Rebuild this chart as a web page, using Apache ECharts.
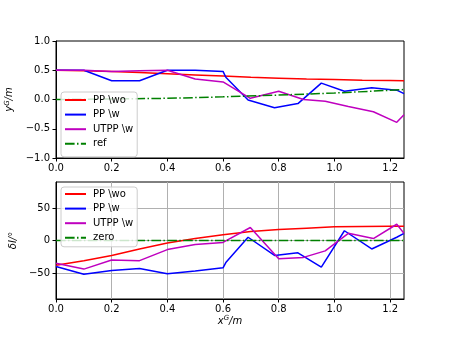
<!DOCTYPE html>
<html><head><meta charset="utf-8">
<script src="https://cdn.jsdelivr.net/npm/echarts@6/dist/echarts.min.js"></script>
<style>html,body{margin:0;padding:0;background:#fff}#c{width:449px;height:337px}</style>
</head><body><div id="c"></div>
<script>
// ---- data ----
const xTicks = [0, 0.2, 0.4, 0.6, 0.8, 1.0, 1.2];
const yTopTicks = [-1, -0.5, 0, 0.5, 1];
const yBotTicks = [-50, 0, 50];

const redX = [0, 0.1, 0.2, 0.3, 0.4, 0.5, 0.6, 0.7, 0.8, 0.9, 1.0, 1.1, 1.2, 1.25];
const redTop = [0.50, 0.49, 0.48, 0.46, 0.44, 0.42, 0.40, 0.38, 0.365, 0.35, 0.34, 0.33, 0.325, 0.32];
const redBot = [-38, -31, -23, -13, -4, 3, 9, 14, 17, 19, 21, 21.5, 22, 22];

const blueX = [0, 0.1, 0.2, 0.3, 0.4, 0.5, 0.6, 0.61, 0.69, 0.785, 0.869, 0.953, 1.036, 1.134, 1.224, 1.25];
const blueTop = [0.50, 0.50, 0.32, 0.32, 0.50, 0.50, 0.48, 0.38, -0.01, -0.14, -0.07, 0.28, 0.14, 0.20, 0.16, 0.10];
const blueBot = [-40, -52, -46, -43, -51, -47, -42, -34, 5, -23, -19, -41, 15, -13, 5, 11];

const magX = [0, 0.1, 0.2, 0.3, 0.4, 0.5, 0.6, 0.698, 0.8, 0.889, 0.967, 1.05, 1.14, 1.224, 1.25];
const magTop = [0.50, 0.50, 0.48, 0.49, 0.50, 0.35, 0.30, 0.02, 0.14, 0.00, -0.03, -0.12, -0.21, -0.39, -0.26];
const magBot = [-35, -44, -30, -31, -14, -6, -3, 20, -28, -26, -16, 11, 3, 25, 11];

const refX = [0, 0.2, 0.4, 0.6, 0.8, 1.0, 1.25];
const refTop = [0.0, 0.01, 0.02, 0.045, 0.075, 0.11, 0.17];
const zeroX = [0, 1.25];
const zeroBot = [0, 0];

const names = ['PP \\wo', 'PP \\w', 'UTPP \\w'];
// ---- build ----
const pair = (xs, ys) => xs.map((x, i) => [x, ys[i]]);
const fmt = v => { const s = Math.abs(v).toFixed(1); return v < 0 ? '\u2212' + s : s; };
const FONT = 'DejaVu Sans';
const lab = { color: '#000', fontSize: 10, fontFamily: FONT };

function xAxis(gi, withName) {
  return {
    type: 'value', gridIndex: gi, min: 0, max: 1.25,
    axisLine: { show: true, onZero: false, lineStyle: { color: '#000', width: 1 } },
    axisTick: { show: true, length: 3.5, lineStyle: { color: '#000' }, customValues: xTicks },
    axisLabel: Object.assign({ margin: 5, formatter: fmt, customValues: xTicks }, lab),
    splitLine: { show: gi === 1, lineStyle: { color: '#b0b0b0', width: 1 } },
    name: withName ? 'x{s|G}/m' : '', nameLocation: 'middle', nameGap: 15,
    nameTextStyle: { fontStyle: 'italic', fontSize: 10, fontFamily: FONT, color: '#000',
      rich: { s: { fontSize: 7, fontStyle: 'italic', fontFamily: FONT, verticalAlign: 'top', padding: [0, 0, 6, 0] } } }
  };
}
function yAxis(gi, min, max, ticks, name, f, gap) {
  return {
    type: 'value', gridIndex: gi, min: min, max: max,
    axisLine: { show: true, onZero: false, lineStyle: { color: '#000', width: 1 } },
    axisTick: { show: true, length: 3.5, lineStyle: { color: '#000' }, customValues: ticks },
    axisLabel: Object.assign({ margin: 6, formatter: f, customValues: ticks }, lab),
    splitLine: { show: gi === 1, lineStyle: { color: '#b0b0b0', width: 1 } },
    name: name, nameLocation: 'middle', nameGap: gap, nameRotate: 90,
    nameTextStyle: { fontStyle: 'italic', fontSize: 10, fontFamily: FONT, color: '#000',
      rich: { s: { fontSize: 7, fontStyle: 'italic', fontFamily: FONT, padding: [0, 0, 6, 0] } } }
  };
}
function line(name, xs, ys, color, gi, dash) {
  return {
    type: 'line', name: name, xAxisIndex: gi, yAxisIndex: gi,
    data: pair(xs, ys), symbol: 'none', animation: false,
    lineStyle: { color: color, width: 1.5, type: dash ? [9.6, 2.4, 1.5, 2.4] : 'solid' },
    itemStyle: { color: color }
  };
}
function legend(top, data, padding) {
  return {
    left: 61, top: top, orient: 'vertical', data: data,
    itemWidth: 21, itemHeight: 10, itemGap: 4.6,
    padding: padding,
    itemStyle: { opacity: 0 },
    backgroundColor: 'rgba(255,255,255,0.8)', borderColor: '#cccccc', borderWidth: 1, borderRadius: 3,
    textStyle: { fontSize: 10, fontFamily: FONT, color: '#000', padding: [0, 0, 0, 2] },
    selectedMode: false
  };
}
const chart = echarts.init(document.getElementById('c'), null, { renderer: 'canvas' });
chart.setOption({
  animation: false,
  backgroundColor: '#fff',
  grid: [
    { left: 56, top: 41, width: 348, height: 117, show: true, borderColor: '#000', borderWidth: 1, backgroundColor: 'transparent', containLabel: false, outerBoundsMode: 'none' },
    { left: 56, top: 182, width: 348, height: 117, show: true, borderColor: '#000', borderWidth: 1, backgroundColor: 'transparent', containLabel: false, outerBoundsMode: 'none' }
  ],
  xAxis: [xAxis(0, false), xAxis(1, true)],
  yAxis: [
    yAxis(0, -1, 1, yTopTicks, 'y{s|G}/m', fmt, 32),
    yAxis(1, -90, 90, yBotTicks, 'δl/°', v => v < 0 ? '\u2212' + Math.abs(v) : String(v), 32)
  ],
  legend: [
    legend(92, [...names, 'ref'], [3, 4, 8, 3]),
    legend(187, [...names, 'zero'], [2, 4, 4, 3])
  ],
  series: [
    line(names[0], redX, redTop, '#ff0000', 0),
    line(names[1], blueX, blueTop, '#0000ff', 0),
    line(names[2], magX, magTop, '#bf00bf', 0),
    line('ref', refX, refTop, '#008000', 0, true),
    line(names[0], redX, redBot, '#ff0000', 1),
    line(names[1], blueX, blueBot, '#0000ff', 1),
    line(names[2], magX, magBot, '#bf00bf', 1),
    line('zero', zeroX, zeroBot, '#008000', 1, true)
  ]
});
</script></body></html>
